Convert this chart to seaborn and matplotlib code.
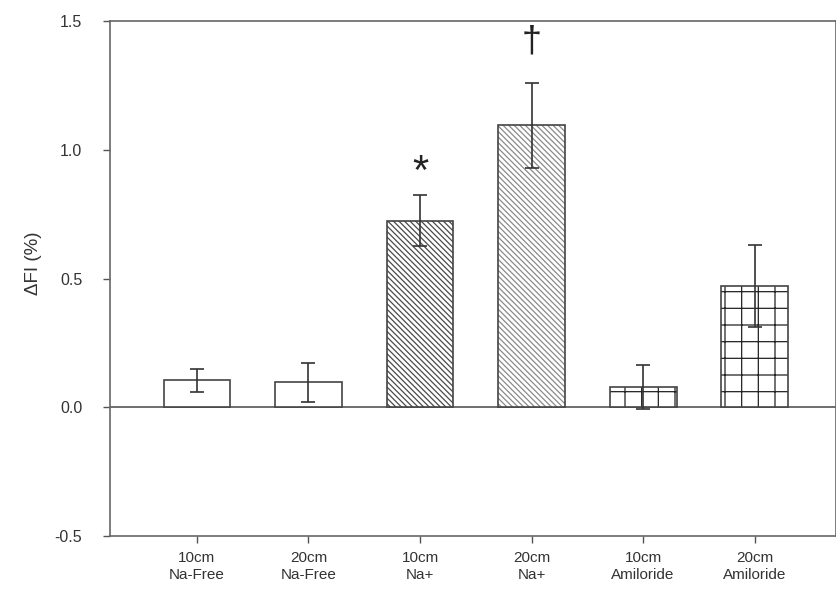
import matplotlib
matplotlib.use("Agg")
import matplotlib.pyplot as plt
from matplotlib.colors import to_rgba
import seaborn as sns
import pandas as pd

# Fluorescence change per condition (mean and SEM)
conditions = ["10cm\nNa-Free", "20cm\nNa-Free", "10cm\nNa+", "20cm\nNa+",
              "10cm\nAmiloride", "20cm\nAmiloride"]
delta_fi = [0.105, 0.097, 0.725, 1.095, 0.080, 0.470]
sem = [0.045, 0.077, 0.100, 0.165, 0.085, 0.160]
hatches = ["", "", "\\" * 6, "\\" * 6, "+", "+"]
hatch_colors = ["#444444", "#444444", "#4a4a4a", "#8a8a8a", "#222222", "#222222"]
marks = {2: ("*", 0.91, 30), 3: ("\u2020", 1.42, 26)}

df = pd.DataFrame({"condition": conditions, "dfi": delta_fi})

sns.set_style("white")
plt.rcParams["font.family"] = ["Liberation Sans", "DejaVu Sans"]
plt.rcParams["hatch.linewidth"] = 0.9

fig = plt.figure(figsize=(8.37, 5.99), dpi=100)
ax = fig.add_axes([0.1314, 0.105, 0.8674, 0.86])

sns.barplot(data=df, x="condition", y="dfi", ax=ax, color="white",
            edgecolor="#444444", linewidth=1.2, width=0.6, errorbar=None,
            zorder=2)

for i, patch in enumerate(ax.patches):
    patch.set_hatch(hatches[i])
    patch._hatch_color = to_rgba(hatch_colors[i])

ax.errorbar(range(len(conditions)), delta_fi, yerr=sem, fmt="none",
            ecolor="#333333", elinewidth=1.2, capsize=5, capthick=1.2,
            zorder=3)

for i, (m, y, fs) in marks.items():
    ax.text(i, y, m, ha="center", va="center", fontsize=fs,
            color="#222222")

ax.axhline(0, color="#555555", lw=1.2, zorder=1)

ax.set_xlim(-0.78, 5.73)
ax.set_ylim(-0.5, 1.5)
ax.set_yticks([-0.5, 0.0, 0.5, 1.0, 1.5])
ax.set_yticklabels(["-0.5", "0.0", "0.5", "1.0", "1.5"])
ax.set_xlabel("")
ax.set_ylabel("\u0394FI (%)", fontsize=13.5, color="#333333")
ax.yaxis.set_label_coords(-0.093, 0.53)

for side in ["left", "right", "top", "bottom"]:
    ax.spines[side].set_color("#666666")
    ax.spines[side].set_linewidth(1.2)

ax.tick_params(axis="y", direction="out", length=5, width=1,
               color="#555555", labelsize=11.5, labelcolor="#333333",
               left=True, pad=15)
ax.tick_params(axis="x", direction="out", length=5, width=1,
               color="#555555", labelsize=11, labelcolor="#333333",
               bottom=True, pad=6)

fig.savefig("out.png", dpi=100)
